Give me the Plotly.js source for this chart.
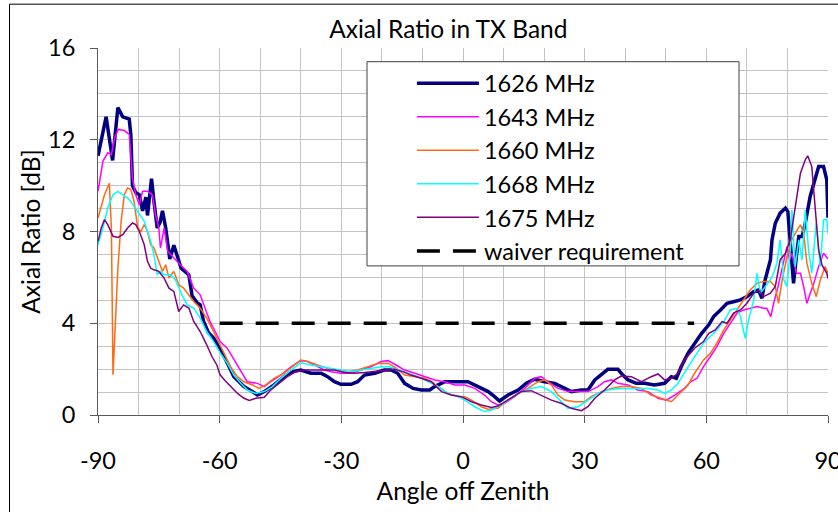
<!DOCTYPE html>
<html>
<head>
<meta charset="utf-8">
<script src="https://cdn.plot.ly/plotly-3.0.1.min.js"></script>
<style>
html,body{margin:0;padding:0;background:#fff;}
#chart{width:838px;height:512px;}
</style>
</head>
<body>
<div id="chart"></div>
<script>
// ---- data ----
var seriesNames = ["1626 MHz","1643 MHz","1660 MHz","1668 MHz","1675 MHz"];
var waiverName = "waiver requirement";

var angle1626 = [-90,-88,-86.4,-85.1,-83.9,-83.1,-82.3,-81.9,-81.5,-80.7,
-79.8,-79,-78.2,-77.8,-76.8,-76.2,-75.4,-74.7,-74.1,-73.3,
-72.3,-71.3,-70.5,-69.5,-68.5,-67.6,-66.8,-65.6,-64.8,-64,
-62.8,-61.5,-60.3,-58.9,-56.5,-54,-51.9,-50.7,-49,-46.6,
-44.1,-42,-40,-37.5,-35,-33.4,-31.7,-30.1,-27.6,-26,
-24.3,-21.8,-19.4,-17.7,-16.1,-14.4,-12.3,-10.3,-8.2,-7,
-4.5,-2,1.2,3.7,6.2,7.8,9,11.1,13.6,15.6,
17.7,20.1,22.6,25.1,26.7,29.2,30.8,32.5,34.1,35.7,
38.2,39.4,40.7,42.7,44.8,47.2,49.7,51.4,52.6,53.8,
55.5,57.1,58.8,60.6,61.8,63.5,65.1,66.7,68.4,70,
71.7,72.9,73.7,74.5,75.8,76.2,77,78.2,79.5,80.1,
80.7,81.5,82.2,82.8,83.6,84.4,85.6,86.9,87.7,88.9,
89.7,90];
var ar1626 = [11.3,13.0,11.1,13.4,13.0,12.95,12.9,12.2,10.0,9.7,
9.6,8.9,9.5,8.7,10.3,9.3,8.15,8.4,8.9,8.15,
6.8,7.4,7.0,6.4,6.25,6.1,5.2,4.9,4.8,4.1,
3.6,3.35,3.0,2.55,1.67,1.24,1.02,0.87,1.02,1.31,
1.67,1.89,1.96,1.82,1.82,1.67,1.45,1.34,1.34,1.45,
1.74,1.82,1.96,1.96,1.82,1.38,1.16,1.09,1.09,1.24,
1.45,1.45,1.45,1.24,1.02,0.8,0.61,0.87,1.09,1.38,
1.56,1.45,1.38,1.16,1.02,1.09,1.09,1.53,1.74,1.99,
1.99,1.74,1.53,1.38,1.38,1.31,1.38,1.67,1.6,2.1,
2.7,3.1,3.55,3.93,4.29,4.58,4.87,4.94,5.02,5.16,
5.38,5.45,5.09,5.89,6.76,7.64,8.36,8.8,9.02,8.87,
7.64,5.74,6.91,7.78,7.78,8.36,9.53,10.4,10.83,10.83,
10.25,8.6];

var angle1643 = [-90,-88.8,-87.6,-86.7,-85.9,-85,-83.5,-82.3,-81.5,-80.7,
-79.8,-79,-77.8,-76.6,-75.8,-75,-74.6,-73.7,-72.8,-71.3,
-69.7,-68,-66.4,-64.8,-63.6,-62.4,-61.1,-59.9,-58.1,-56.9,
-54.8,-53.2,-50.7,-49,-47.4,-44.9,-42.4,-40,-38.3,-35.8,
-34.2,-32.5,-30.1,-27.6,-25.1,-22.7,-20.2,-18.5,-16.5,-14.4,
-11.9,-9.5,-7,-4.5,-2,0.4,2.9,5.3,7,8.6,
10.3,12.7,15.2,17.7,19.3,20.9,23.4,25.9,28.4,30.8,
33.3,34.9,36.6,38.2,40.7,43.1,45.6,48.1,50.1,52.2,
54.6,56.1,57.7,59.3,61,62.6,64.3,65.9,67.6,69.2,
70.8,72.5,74.1,74.9,75.9,76.6,77.6,78.7,79.9,80.5,
81.1,82.2,83.2,84,84.8,85.5,86.5,87.7,88.9,90];
var ar1643 = [9.75,11.06,11.43,11.35,12.08,12.45,12.4,12.23,10.33,9.6,
9.17,9.75,9.75,9.6,8.73,8.15,7.28,8.15,7.13,6.84,
6.55,6.26,5.53,5.24,4.66,4.08,3.64,3.2,2.9,2.54,
1.96,1.45,1.38,1.24,1.45,1.74,2.1,2.37,2.33,2.1,
1.96,1.89,1.82,1.82,1.96,2.1,2.33,2.37,2.18,1.96,
1.82,1.67,1.53,1.45,1.31,1.31,1.16,0.87,0.58,0.44,
0.51,0.8,1.16,1.6,1.67,1.45,1.16,1.02,1.02,1.02,
1.24,1.45,1.53,1.38,1.31,1.09,1.02,0.73,0.65,0.87,
1.16,1.45,1.6,2.11,2.55,2.98,3.56,4.0,4.44,4.58,
4.65,4.73,4.65,4.65,4.29,4.87,5.53,6.47,7.34,6.76,
7.05,6.18,6.18,5.6,4.87,5.24,5.74,6.47,7.05,6.8];

var angle1660 = [-90,-89.2,-88.4,-87.2,-86.7,-86.3,-85.8,-85.1,-84.3,-83.5,
-82.7,-81.9,-81.1,-80.2,-79.4,-78.6,-77.8,-77,-76.2,-75,
-74.1,-73.3,-72.5,-71.3,-70.1,-68.9,-67.6,-66.4,-64.8,-63.2,
-61.9,-60.7,-59.5,-58.3,-57.3,-55.6,-54,-51.9,-50.3,-48.6,
-46.6,-44.1,-41.6,-40,-38.3,-35.8,-33.4,-30.9,-28.4,-26,
-23.5,-21,-18.5,-16.9,-14.4,-11.9,-9.5,-7.8,-6.2,-3.7,
-1.2,0.4,2.1,4.5,6.2,8.6,11.1,13.6,16,18.5,
20.1,21.8,23.4,25.1,27.5,30,31.6,34.1,36.6,39,
41.5,44,46.4,48.9,51.4,53,55.5,57.1,59.3,61,
62.6,64.3,65.9,67.6,69.2,70.8,72.5,74.1,75.8,77,
77.8,78.7,79.9,81.1,82.4,83.2,84,84.8,86,87.1,
88.1,89.3,90];
var ar1660 = [8.59,9.1,9.6,10.1,8.15,1.75,3.78,6.4,8.44,9.6,
9.9,9.83,9.3,8.15,8.0,8.3,8.0,7.42,7.28,6.7,
6.26,6.55,5.97,6.26,5.68,5.53,5.24,4.95,4.66,4.22,
3.78,3.35,2.91,2.47,2.1,1.67,1.45,1.31,1.16,1.31,
1.6,1.82,2.18,2.4,2.33,2.18,2.03,1.96,1.89,1.96,
2.1,2.25,2.25,2.1,1.74,1.67,1.6,1.45,1.24,0.94,
0.8,0.8,0.65,0.36,0.25,0.29,0.65,0.94,1.16,1.45,
1.53,1.31,0.87,0.65,0.58,0.58,0.8,1.02,1.16,1.24,
1.24,1.16,0.87,0.73,0.58,0.87,1.31,1.82,2.4,2.69,
3.13,3.71,4.14,4.58,5.02,5.45,5.74,5.82,5.82,5.6,
4.87,5.89,6.91,7.64,8.07,8.29,7.93,6.62,5.74,5.16,
5.89,6.47,6.18];

var angle1668 = [-90,-88.8,-87.6,-86.3,-85.1,-83.9,-82.7,-81.9,-80.2,-78.6,
-77,-76.2,-75.4,-74.6,-73.7,-72.1,-70.9,-70.1,-69.3,-68,
-67.2,-66.4,-64.8,-63.2,-61.5,-59.8,-58.1,-56.5,-54.8,-53.2,
-51.1,-49,-47,-44.9,-42.4,-40,-37.5,-35,-32.5,-30.1,
-27.6,-25.1,-22.7,-20.2,-18.1,-16.1,-13.6,-11.1,-8.6,-6.2,
-3.7,-1.2,0.4,2.9,5.3,7,9.4,11.9,14.4,16.8,
19.3,21.8,24.2,25.9,28.4,30.8,33.3,35.7,38.2,40.7,
43.1,45.6,48.1,49.7,51.4,53,55.5,57.7,59.3,61,
62.6,64.3,65.9,67.6,68.4,69.6,70.4,71.7,72.5,73.3,
74.5,75.8,76.6,77.4,78.2,79.1,79.9,80.7,81.1,81.9,
82.8,83.6,84.4,85.2,86,87.1,88.1,88.9,89.7,90];
var ar1668 = [7.42,8.15,9.02,9.6,9.75,9.6,9.46,9.3,8.88,8.44,
7.57,6.99,6.11,6.26,6.11,6.11,5.9,5.53,5.24,4.8,
4.73,4.66,4.22,3.64,3.2,2.69,2.25,1.74,1.38,1.09,
0.94,1.02,1.24,1.6,1.96,2.28,2.18,2.1,2.03,1.96,
1.89,1.96,2.03,2.1,2.1,1.96,1.82,1.67,1.45,1.24,
0.94,0.8,0.65,0.36,0.15,0.22,0.44,0.73,1.02,1.16,
1.24,1.02,0.58,0.29,0.36,0.65,0.94,1.09,1.16,1.16,
1.16,1.16,1.09,0.94,1.09,1.38,2.1,2.69,3.13,3.42,
3.71,4.07,4.58,4.65,4.29,3.34,4.14,5.02,6.18,5.31,
5.6,5.89,6.18,6.62,7.64,5.89,5.6,7.2,8.94,6.47,
7.64,6.76,8.94,7.2,6.18,8.36,6.47,8.51,8.51,7.9];

var angle1675 = [-90,-89.2,-88.4,-87.6,-86.3,-85.1,-83.9,-82.7,-81.5,-80.7,
-79.8,-78.6,-77.8,-77,-76.2,-75,-73.7,-72.5,-71.3,-70.1,
-68.9,-67.6,-66.4,-64.8,-63.2,-61.9,-60.7,-59.9,-58.7,-57.3,
-55.6,-54,-52.7,-51.1,-49,-47.4,-45.3,-43.3,-41.2,-39.1,
-36.7,-34.2,-31.7,-29.2,-26.8,-24.3,-21.8,-19.4,-16.9,-14.8,
-12.8,-10.3,-7.8,-5.3,-2.9,-0.4,2.1,4.5,7,8.6,
10.3,12.3,14.4,16.8,19.3,21.8,24.2,26.7,29.2,30.8,
32.5,34.9,37.4,39,41.5,44,46.4,48.1,49.7,51.4,
53,54.6,57.1,59.3,60.6,62.2,63.9,65.1,66.7,68.4,
70,71.7,72.9,74.1,75.8,77,78.2,79.5,80.7,81.9,
83.2,84.4,85,86,86.9,87.7,88.5,89.7,90];
var ar1675 = [7.57,8.15,8.52,8.3,7.79,7.74,7.86,8.15,8.37,8.3,
8.0,7.42,6.7,6.4,6.33,6.26,5.97,5.53,5.39,4.51,
4.8,4.66,4.08,3.64,3.06,2.55,2.18,1.75,1.5,1.24,
0.94,0.73,0.63,0.73,0.77,1.09,1.38,1.67,1.89,1.96,
1.96,1.96,1.96,1.85,1.82,1.85,1.89,1.96,1.99,1.89,
1.74,1.6,1.45,1.02,0.87,0.8,0.58,0.44,0.33,0.39,
0.58,0.8,1.02,1.06,0.87,0.65,0.51,0.29,0.19,0.36,
0.73,1.09,1.53,1.7,1.67,1.45,1.67,1.79,1.53,1.6,
1.82,2.4,2.91,3.2,3.56,3.71,4.07,4.0,4.44,4.58,
4.87,5.31,5.45,5.16,5.31,5.6,6.76,7.05,7.64,9.09,
10.54,11.13,11.3,10.83,9.09,7.2,6.54,6.18,5.95];

var waiverAngle = [-60, 57];
var waiverAR = [4, 4];

var xTickVals = [-90,-60,-30,0,30,60,90];
var xTickText = ["-90","-60","-30","0","30","60","90"];
var yTickVals = [0,4,8,12,16];
var yTickText = ["0","4","8","12","16"];

// ---- styling ----
var FONT = "Lato, 'Open Sans', sans-serif";
var colors = ["#000080","#ff00ff","#ff6a13","#00ffff","#800080"];
var widths = [3.5,1.5,1.5,1.5,1.5];
var xs = [angle1626,angle1643,angle1660,angle1668,angle1675];
var ys = [ar1626,ar1643,ar1660,ar1668,ar1675];

var traces = [];
for (var i = 0; i < seriesNames.length; i++) {
  traces.push({
    type: "scatter", mode: "lines", name: seriesNames[i],
    x: xs[i], y: ys[i],
    line: {color: colors[i], width: widths[i]},
    hoverinfo: "skip"
  });
}
traces.push({
  type: "scatter", mode: "lines", name: waiverName,
  x: waiverAngle, y: waiverAR,
  line: {color: "#000000", width: 3.5, dash: "23px,13px"},
  hoverinfo: "skip"
});

var gridC = "#c4c4c4";
var layout = {
  width: 838, height: 512,
  margin: {l: 98, r: 10, t: 48, b: 97},
  paper_bgcolor: "#ffffff", plot_bgcolor: "#ffffff",
  font: {family: FONT, size: 23, color: "#000"},
  title: {text: "Axial Ratio in TX Band", font: {family: FONT, size: 24.5, color: "#000"},
          x: 0.535, xref: "container", xanchor: "center", y: 0.942, yref: "container", yanchor: "middle"},
  showlegend: true,
  legend: {x: 0.43, y: 0.9636, xanchor: "left", yanchor: "top",
           bgcolor: "rgba(0,0,0,0)", borderwidth: 0,
           font: {family: FONT, size: 23.5, color: "#000"},
           itemwidth: 62, traceorder: "normal"},
  xaxis: {
    range: [-90, 90], tickvals: xTickVals, ticktext: xTickText,
    showgrid: true, gridcolor: gridC, gridwidth: 1,
    minor: {dtick: 10, tick0: 0, showgrid: true, gridcolor: gridC, gridwidth: 1, ticks: ""},
    ticks: "outside", ticklen: 7, tickcolor: "#595959", tickwidth: 1,
    showline: true, linecolor: "#595959", linewidth: 1, zeroline: false,
    tickfont: {family: FONT, size: 23.5, color: "#000"}, ticklabelstandoff: 18,
    ticklabeloverflow: "allow",
    title: {text: "Angle off Zenith", font: {family: FONT, size: 24.5, color: "#000"}, standoff: 9},
    automargin: false, fixedrange: true
  },
  yaxis: {
    range: [0, 16], tickvals: yTickVals, ticktext: yTickText,
    showgrid: true, gridcolor: gridC, gridwidth: 1,
    minor: {dtick: 1, tick0: 0, showgrid: true, gridcolor: gridC, gridwidth: 1, ticks: ""},
    ticks: "outside", ticklen: 7, tickcolor: "#595959", tickwidth: 1,
    showline: true, linecolor: "#595959", linewidth: 1, zeroline: false,
    tickfont: {family: FONT, size: 23.5, color: "#000"}, ticklabelstandoff: 10,
    ticklabeloverflow: "allow",
    title: {text: "Axial Ratio [dB]", font: {family: FONT, size: 24.5, color: "#000"}, standoff: 0},
    automargin: false, fixedrange: true
  },
  shapes: [
    {type: "rect", xref: "paper", yref: "paper", x0: 0.3685, x1: 0.8781, y0: 0.4063, y1: 0.9627,
     line: {color: "#404040", width: 1}, fillcolor: "#ffffff", layer: "above"},
    {type: "rect", xref: "paper", yref: "paper", x0: -0.1212, x1: 1.2, y0: -0.4, y1: 1.1194,
     line: {color: "#000000", width: 1}, fillcolor: "rgba(0,0,0,0)", layer: "below"}
  ]
};

Plotly.newPlot("chart", traces, layout, {displayModeBar: false, staticPlot: true});
</script>
</body>
</html>
